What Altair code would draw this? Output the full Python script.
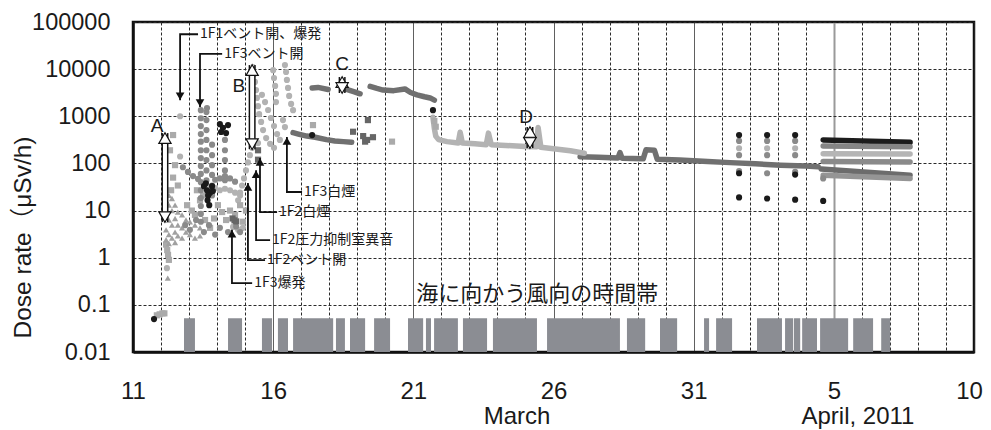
import altair as alt
import pandas as pd

FONT = "Liberation Sans, Arial, Noto Sans CJK JP, sans-serif"
JFONT = "Noto Sans CJK JP, Liberation Sans, sans-serif"

# ---------------- data (day = day of March 2011, April 1 = 32) ----------------
wind_start = [12.82, 14.39, 15.60, 16.17, 16.71, 18.24, 18.74, 19.60, 20.81, 21.45, 21.74, 22.77, 23.84,
              25.77, 28.62, 29.80, 31.37, 31.80, 33.26, 34.26, 34.58, 34.87, 35.51, 36.69, 37.69]
wind_end = [13.21, 14.89, 15.96, 16.53, 18.14, 18.56, 19.28, 20.17, 21.35, 21.63, 22.59, 23.63, 25.41,
            28.37, 29.27, 30.41, 31.55, 32.37, 34.15, 34.55, 34.80, 35.40, 36.51, 37.40, 38.01]
wind_low = 0.01
wind_high = 0.052

# black circles
blk_day = [11.75,
           13.53, 13.64, 13.75, 13.82, 13.68, 13.60, 13.85, 13.66, 13.72,
           14.10, 14.21, 14.32, 14.14, 14.39,
           17.39, 21.70,
           32.62, 33.62, 34.62, 32.62, 34.62,
           32.62, 33.62, 34.62, 35.62]
blk_val = [0.05,
           33, 27, 24, 33, 21, 38, 26, 16.5, 13,
           680, 570, 440, 465, 650,
           400, 1350,
           400, 400, 400, 62, 58,
           19, 18, 17, 16]

# mid-grey circles
mid_day = [13.42] * 15 + [13.62] * 8 + [13.82] * 6 + [14.28] * 5 + [
    12.78, 12.96, 13.14, 13.32, 13.93, 14.10, 14.28, 14.46, 14.64,
    12.86, 13.03, 13.25, 13.53, 13.71, 13.93, 14.10, 14.39, 14.68, 14.82,
    13.64,
    32.62, 33.62, 34.62, 32.62, 33.62, 34.62, 32.62, 33.62, 34.62, 35.62]
mid_val = [1350, 910, 620, 420, 290, 190, 130, 88, 60, 40, 27, 18.5, 12.5, 8.5, 5.8,
           1230, 830, 510, 315, 190, 118, 71, 44,
           250, 150, 92, 57, 34, 21,
           315, 190, 118, 71, 44,
           83, 66, 54, 47, 45, 48, 54, 48, 41,
           4.9, 3.9, 6.3, 3.5, 4.9, 3.1, 4.3, 3.5, 4.6, 3.5,
           1500,
           300, 300, 300, 150, 150, 150, 69, 62, 66, 48]

# light-grey circles
lgt_day = [12.68, 12.68, 12.21,
           13.75, 13.93, 14.10, 14.28, 14.46, 14.64, 14.82,
           14.75, 14.82, 14.89, 14.96, 15.03, 15.10, 15.17, 15.25, 15.32,
           14.57, 14.75, 14.92,
           15.28, 15.32, 15.35, 15.39, 15.42, 15.46, 15.50, 15.57, 15.64, 15.75, 15.89, 16.03,
           15.60, 15.71, 15.82, 15.92, 16.03, 16.14, 16.24,
           16.00, 16.03, 16.07, 16.10, 16.10,
           16.42, 16.46, 16.49, 16.53, 16.57, 16.64, 16.71, 16.35, 16.42,
           15.46,
           32.62, 33.62, 34.62]
lgt_val = [1000, 140, 0.6,
           31, 30, 27, 29, 27, 24, 21,
           16.5, 24, 34, 48, 71, 105, 150, 215, 285,
           4.5, 3.9, 4.3,
           11000, 7900, 5350, 3600, 2450, 1640, 1110, 760, 510, 345, 260, 215,
           2850, 2000, 1360, 920, 620, 420, 315,
           9500, 6500, 4400, 3000, 2000,
           12200, 8700, 5900, 4000, 2700, 1830, 1350, 830, 590,
           270,
           210, 210, 210]

# light-grey squares
sq_day = [11.85, 11.95, 12.05, 12.12,
          12.18, 12.22, 12.25, 12.28,
          12.43, 12.32, 12.50, 12.43, 12.60, 12.36,
          12.93, 13.10, 13.28, 13.39, 13.50, 13.21, 13.57, 13.75, 13.89, 14.03, 14.18, 14.32, 14.46,
          14.64, 14.82, 14.92, 15.03,
          17.42, 20.24, 21.75, 21.80]
sq_val = [0.06, 0.063, 0.066, 0.066,
          1.9, 1.45, 1.15, 0.9,
          400, 190, 92, 50, 34, 27,
          13, 10, 27, 16.5, 21, 8.1, 6.3, 4.3, 6.8, 13, 9.3, 6.3, 10,
          8.1, 13, 5.8, 10,
          650, 290, 800, 600]

# dark-grey squares
drk_day = [14.55, 14.62, 14.68, 15.46, 15.46, 18.85, 19.21, 19.28, 19.35, 19.38, 19.56]
drk_val = [6.8, 6.2, 5.9, 190, 120, 470, 380, 290, 315, 830, 360]

# grey triangles
tri_day = [12.18, 12.18, 12.18, 12.18, 12.28, 12.28, 12.28, 12.28, 12.28, 12.39, 12.39, 12.39, 12.39,
           12.50, 12.50, 12.50, 12.50, 12.60, 12.60, 12.60, 12.75, 12.75, 12.75, 12.89, 12.89,
           13.03, 13.03, 13.21, 13.21, 13.39, 13.39, 12.24]
tri_val = [16.5, 8.1, 3.9, 2.4, 21, 13, 6.3, 3.1, 2.0, 18, 10, 4.9, 2.6,
           13, 6.8, 3.5, 2.1, 9.3, 4.9, 2.9, 8.1, 4.3, 2.6, 6.3, 3.5,
           5.8, 3.1, 4.9, 2.6, 4.3, 2.9, 0.37]

# dense records drawn as thick traces
dark_seg = ["d1"] * 3 + ["d2"] * 4 + ["d3"] * 10 + ["d4"] * 8 + ["d5"] * 16
dark_day = [17.39, 17.60, 17.96,
            18.56, 18.70, 18.90, 19.10,
            19.46, 19.70, 19.92, 20.30, 20.70, 20.90, 21.13, 21.40, 21.60, 21.75,
            16.71, 16.90, 17.20, 17.50, 17.90, 18.20, 18.50, 18.80,
            26.95, 27.60, 28.30, 28.37, 28.45, 29.20, 29.30, 29.60, 29.70, 30.50, 31.50, 32.30, 33.20, 34.10,
            35.00, 35.44]
dark_val = [4000, 4100, 3700,
            3800, 3600, 3300, 3000,
            4300, 3900, 3600, 3500, 3800, 3200, 2850, 2600, 2450, 2200,
            450, 420, 380, 360, 320, 300, 290, 280,
            139, 135, 130, 170, 128, 125, 195, 190, 123, 118, 110, 104, 98, 92, 88, 85]

light_day = [21.70, 21.75, 21.80, 21.90, 22.20, 22.60, 22.67, 22.75, 23.20, 23.60, 23.68, 23.78, 24.30,
             25.00, 25.40, 25.45, 25.55, 26.00, 26.60, 27.10]
light_val = [950, 550, 380, 320, 290, 270, 460, 270, 260, 250, 440, 250, 240,
             228, 225, 580, 220, 205, 185, 165]

apr_series = ["a1", "a2", "a3", "a4", "a5", "a6"]
apr_day0 = [35.62, 35.62, 35.62, 35.62, 35.55, 35.62]
apr_day1 = [38.72, 38.72, 38.72, 38.72, 38.72, 38.72]
apr_val0 = [315, 235, 160, 110, 76, 56]
apr_val1 = [280, 225, 158, 107, 56, 48]
apr_color = ["#1c1c1c", "#858585", "#b5b5b5", "#8a8a8a", "#6c6c6c", "#959595"]

# event annotations: arrow tip, corner, leader end, label
ev_label = ["1F1ベント開、爆発", "1F3ベント開", "1F3白煙", "1F2白煙", "1F2圧力抑制室異音", "1F2ベント開", "1F3爆発"]
ev_x = [12.68, 13.39, 16.49, 15.53, 15.39, 15.10, 14.53]
ev_tip = [2200, 1570, 363, 130, 72, 38.5, 3.9]
ev_corner = [55000, 21000, 24.8, 9.3, 2.37, 0.89, 0.29]
ev_end = [13.32, 14.18, 17.03, 16.14, 15.89, 15.71, 15.25]
ev_dir = ["down", "down", "up", "up", "up", "up", "up"]

# double arrows A-D
da_label = ["A", "B", "C", "D"]
da_x = [12.14, 15.25, 18.46, 25.16]
da_lo = [5.7, 201, 3120, 212]
da_hi = [440, 12200, 6800, 593]
da_lab_x = [11.86, 14.78, 18.46, 25.02]
da_lab_y = [622, 4390, 12850, 966]

wind_text = "海に向かう風向の時間帯"
wind_text_x = 21.1
wind_text_y = 0.17

month_labels = ["March", "April, 2011"]
month_x = [24.7, 36.86]

x_ticks = list(range(11, 42))
y_ticks = [0.01, 0.1, 1, 10, 100, 1000, 10000, 100000]

# ---------------- build tables ----------------
pts = pd.DataFrame(
    [("lgt", d, v) for d, v in zip(lgt_day, lgt_val)]
    + [("sq", d, v) for d, v in zip(sq_day, sq_val)]
    + [("tri", d, v) for d, v in zip(tri_day, tri_val)]
    + [("mid", d, v) for d, v in zip(mid_day, mid_val)]
    + [("drk", d, v) for d, v in zip(drk_day, drk_val)]
    + [("blk", d, v) for d, v in zip(blk_day, blk_val)],
    columns=["g", "day", "val"])
pts["o"] = range(len(pts))

lines_rows = []
for i, (s, d, v) in enumerate(zip(dark_seg, dark_day, dark_val)):
    lines_rows.append(("dark", s, i, d, v))
for i, (d, v) in enumerate(zip(light_day, light_val)):
    lines_rows.append(("light", "l1", i, d, v))
for s, d0, d1, v0, v1 in zip(apr_series, apr_day0, apr_day1, apr_val0, apr_val1):
    lines_rows.append((s, s, 0, d0, v0))
    lines_rows.append((s, s, 1, d1, v1))
lines = pd.DataFrame(lines_rows, columns=["series", "seg", "o", "day", "val"])

wind = pd.DataFrame({"s": wind_start, "e": wind_end, "lo": wind_low, "hi": wind_high})

lead_rows = []
for k in range(len(ev_label)):
    lead_rows.append((k, 0, ev_x[k], ev_tip[k]))
    lead_rows.append((k, 1, ev_x[k], ev_corner[k]))
    lead_rows.append((k, 2, ev_end[k], ev_corner[k]))
leads = pd.DataFrame(lead_rows, columns=["k", "o", "day", "val"])
evs = pd.DataFrame({"label": ev_label, "x": ev_x, "tip": ev_tip, "corner": ev_corner,
                    "end": ev_end, "dir": ev_dir})
das = pd.DataFrame({"label": da_label, "x": da_x, "lo": da_lo, "hi": da_hi,
                    "lx": da_lab_x, "ly": da_lab_y})

xs = alt.Scale(domain=[11, 41], nice=False, zero=False)
ys = alt.Scale(type="log", domain=[0.01, 100000], nice=False)

XA = alt.Axis(
    values=x_ticks, title=None, ticks=False, labelOverlap=False, labelFlush=False,
    labelExpr="datum.value % 5 == 1 ? '' + (datum.value > 31 ? datum.value - 31 : datum.value) : ''",
    labelOffset={"condition": {"test": "datum.value == 41", "value": -5}, "value": 0},
    labelFontSize=24, labelFont=FONT, labelColor="#1a1a1a", labelPadding=27,
    domainColor="#111", domainWidth=2.5,
    gridColor={"condition": {"test": "datum.value == 36", "value": "#9a9a9a"}, "value": "#2a2a2a"},
    gridWidth={"condition": {"test": "datum.value == 36", "value": 2}, "value": 1},
    gridDash={"condition": {"test": "datum.value % 5 == 1", "value": [1, 0]}, "value": [3, 2]},
)
YA = alt.Axis(
    values=y_ticks, format="~g", ticks=False, labelFontSize=23.5, labelFont=FONT,
    labelColor="#1a1a1a", labelPadding=23, domainColor="#111", domainWidth=2.5,
    gridColor="#2a2a2a", gridDash=[3, 2], gridWidth=1,
    title="Dose rate（μSv/h)", titleFont=FONT, titleFontSize=24.5, titleFontWeight="normal",
    titleColor="#1a1a1a", titleX=-110, titleY=215, titleAngle=270,
    titleAlign="center", titleBaseline="middle",
)


def X(f):
    return alt.X(f, type="quantitative", scale=xs, axis=XA)


def Y(f):
    return alt.Y(f, type="quantitative", scale=ys, axis=YA)


wind_layer = alt.Chart(wind).mark_rect(color="#8b8d93").encode(
    x=X("s"), x2="e", y=Y("lo"), y2="hi")

line_colors = {"dark": "#707070", "light": "#b3b3b3"}
line_colors.update(dict(zip(apr_series, apr_color)))
line_layer = alt.Chart(lines).mark_line(strokeWidth=5.5, strokeCap="round", strokeJoin="round").encode(
    x=X("day"), y=Y("val"), detail="seg:N", order="o:Q",
    stroke=alt.Stroke("series:N", legend=None,
                      scale=alt.Scale(domain=list(line_colors.keys()), range=list(line_colors.values()))))

grp_dom = ["lgt", "sq", "tri", "mid", "drk", "blk"]
grp_col = ["#b2b2b2", "#aaaaaa", "#a0a0a0", "#8a8a8a", "#666666", "#1a1a1a"]
grp_shape = ["circle", "square", "triangle-up", "circle", "square", "circle"]
point_layer = alt.Chart(pts).mark_point(filled=True, size=38, opacity=1, strokeWidth=0).encode(
    x=X("day"), y=Y("val"), order="o:Q",
    fill=alt.Fill("g:N", legend=None, scale=alt.Scale(domain=grp_dom, range=grp_col)),
    shape=alt.Shape("g:N", legend=None, scale=alt.Scale(domain=grp_dom, range=grp_shape)))

lead_layer = alt.Chart(leads).mark_line(color="#111", strokeWidth=1.8).encode(
    x=X("day"), y=Y("val"), detail="k:N", order="o:Q")
head_down = alt.Chart(evs).transform_filter("datum.dir == 'down'").mark_point(
    shape="triangle-down", filled=True, color="#111", size=75, yOffset=-4, opacity=1).encode(
    x=X("x"), y=Y("tip"))
head_up = alt.Chart(evs).transform_filter("datum.dir == 'up'").mark_point(
    shape="triangle-up", filled=True, color="#111", size=75, yOffset=4, opacity=1).encode(
    x=X("x"), y=Y("tip"))
ev_text = alt.Chart(evs).mark_text(align="left", baseline="middle", dx=2, fontSize=14, font=JFONT,
                                   color="#1a1a1a").encode(x=X("end"), y=Y("corner"), text="label:N")

da_outer = alt.Chart(das).mark_rule(color="#111", strokeWidth=7).encode(x=X("x"), y=Y("lo"), y2="hi")
da_inner = alt.Chart(das).mark_rule(color="white", strokeWidth=4).encode(x=X("x"), y=Y("lo"), y2="hi")
da_top = alt.Chart(das).mark_point(shape="triangle-up", filled=True, fill="white", stroke="#111",
                                   strokeWidth=1.2, size=150, yOffset=5, opacity=1).encode(
    x=X("x"), y=Y("hi"))
da_bot = alt.Chart(das).mark_point(shape="triangle-down", filled=True, fill="white", stroke="#111",
                                   strokeWidth=1.2, size=150, yOffset=-5, opacity=1).encode(
    x=X("x"), y=Y("lo"))
da_text = alt.Chart(das).mark_text(fontSize=19, font=FONT, color="#1a1a1a").encode(
    x=X("lx"), y=Y("ly"), text="label:N")

wind_label = alt.Chart(pd.DataFrame({"t": [wind_text], "x": [wind_text_x], "y": [wind_text_y]})).mark_text(
    align="left", baseline="middle", fontSize=22, font=JFONT, color="#1a1a1a").encode(
    x=X("x"), y=Y("y"), text="t:N")

month_df = pd.DataFrame({"t": month_labels, "x": month_x})
month_text = alt.Chart(month_df).mark_text(fontSize=24, font=FONT, color="#1a1a1a", baseline="middle").encode(
    x=X("x"), y=alt.value(395), text="t:N")

chart = alt.layer(
    wind_layer, line_layer, point_layer, lead_layer, head_down, head_up, ev_text,
    da_outer, da_inner, da_top, da_bot, da_text, wind_label, month_text
).properties(
    width=841, height=330,
    padding={"left": 125, "top": 14, "right": 9, "bottom": 78},
    autosize=alt.AutoSizeParams(type="none"),
).configure_view(stroke="#111", strokeWidth=2.5)

chart.save("out.html", embed_options={"renderer": "svg", "actions": False})
